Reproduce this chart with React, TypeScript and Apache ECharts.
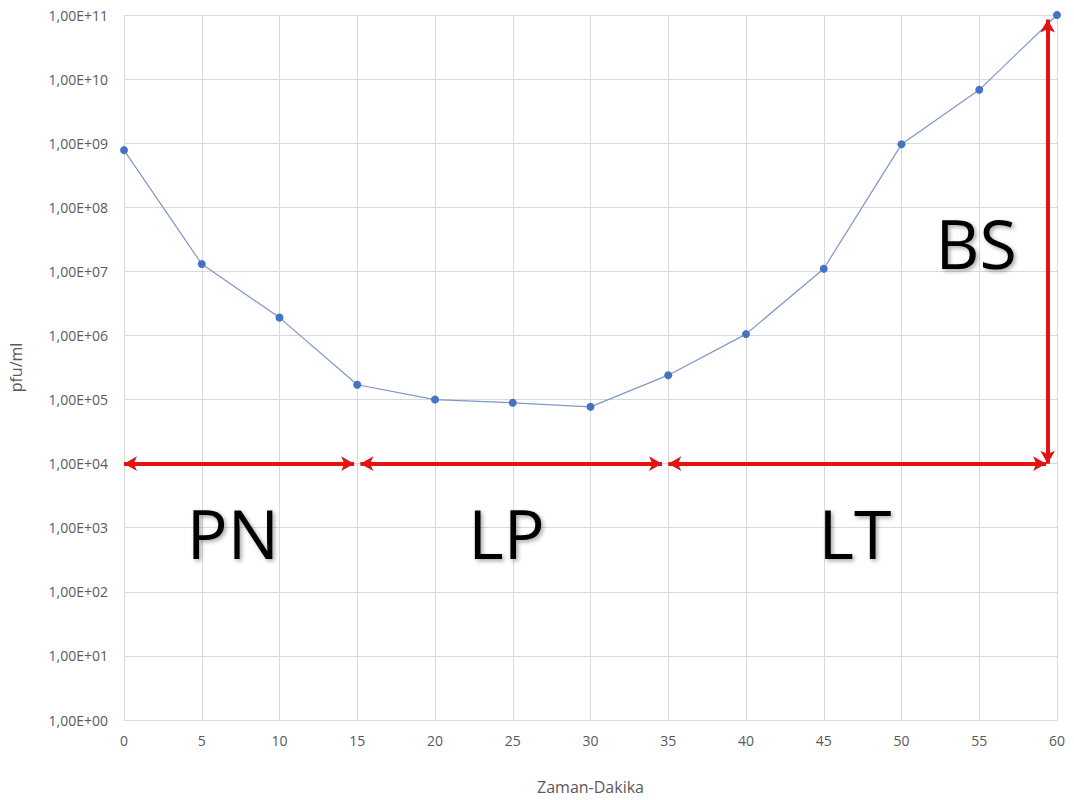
import React, { useEffect, useRef } from "react";
import * as echarts from "echarts";

const minutes = [0, 5, 10, 15, 20, 25, 30, 35, 40, 45, 50, 55, 60];
const pfu = [7.8e8, 1.3e7, 1.9e6, 1.7e5, 1.0e5, 8.9e4, 7.7e4, 2.4e5, 1.05e6, 1.1e7, 9.6e8, 6.8e9, 1.0e11];

const phaseSpans: [number, number][] = [
  [0, 14.8],
  [15.2, 34.6],
  [35.0, 59.3],
];
const phaseLevel = 1e4;
const bsSpan = { x: 59.4, from: 1e4, to: 8.5e10 };
const phaseLabels = [
  { name: "PN", x: 7.0, y: 830 },
  { name: "LP", x: 24.6, y: 830 },
  { name: "LT", x: 47.0, y: 830 },
  { name: "BS", x: 54.8, y: 2.8e7 },
];

const fmtY = (v: number) => {
  const e = Math.round(Math.log10(v));
  return "1,00E+" + (e < 10 ? "0" + e : String(e));
};

export default function App() {
  const ref = useRef<HTMLDivElement>(null);
  useEffect(() => {
    const chart = echarts.init(ref.current!, null, { renderer: "svg" });
    const font = "'Open Sans', 'Noto Sans', sans-serif";
    const red = "#e31414";
    const arrowLines: any[] = phaseSpans.map(([a, b]) => [
      { coord: [a, phaseLevel] },
      { coord: [b, phaseLevel] },
    ]);
    arrowLines.push([
      { coord: [bsSpan.x, bsSpan.from] },
      { coord: [bsSpan.x, bsSpan.to] },
    ]);
    chart.setOption({
      animation: false,
      backgroundColor: "#ffffff",
      textStyle: { fontFamily: font },
      grid: { left: 124, right: 17, top: 15, bottom: 73, containLabel: false },
      xAxis: {
        type: "value",
        min: 0,
        max: 60,
        interval: 5,
        name: "Zaman-Dakika",
        nameLocation: "middle",
        nameGap: 59,
        nameTextStyle: { color: "#595959", fontSize: 16, fontFamily: font },
        axisLine: { show: true, lineStyle: { color: "#d9d9d9" } },
        axisTick: { show: false },
        axisLabel: { color: "#595959", fontSize: 14, margin: 13, fontFamily: font },
        splitLine: { show: true, lineStyle: { color: "#d9d9d9" } },
      },
      yAxis: {
        type: "log",
        logBase: 10,
        min: 1,
        max: 1e11,
        interval: 1,
        name: "pfu/ml",
        nameLocation: "middle",
        nameGap: 100,
        nameTextStyle: { color: "#595959", fontSize: 16, fontFamily: font },
        axisLine: { show: false },
        axisTick: { show: false },
        axisLabel: { color: "#595959", fontSize: 14, margin: 16, formatter: fmtY, fontFamily: font },
        splitLine: { show: true, lineStyle: { color: "#d9d9d9" } },
      },
      series: [
        {
          type: "line",
          data: minutes.map((m, i) => [m, pfu[i]]),
          symbol: "circle",
          symbolSize: 8,
          itemStyle: { color: "#4472c4" },
          lineStyle: { color: "#7f96c8", width: 1.2 },
          markLine: {
            silent: true,
            symbol: ["arrow", "arrow"],
            symbolSize: [11, 13],
            label: { show: false },
            lineStyle: { color: red, width: 4, type: "solid" },
            data: arrowLines,
          },
          markPoint: {
            silent: true,
            symbol: "circle",
            symbolSize: 0,
            label: {
              show: true,
              position: "inside",
              color: "#000000",
              fontSize: 68,
              fontFamily: "'Open Sans', 'Liberation Sans', sans-serif",
              textShadowColor: "rgba(0,0,0,0.35)",
              textShadowBlur: 4,
              textShadowOffsetX: 2,
              textShadowOffsetY: 2,
              formatter: (p: any) => p.name,
            },
            data: phaseLabels.map((l) => ({ name: l.name, coord: [l.x, l.y] })),
          },
        },
      ],
    });
    return () => chart.dispose();
  }, []);
  return (
    <div
      ref={ref}
      style={{ position: "absolute", left: 0, top: 0, width: 1074, height: 800 }}
    />
  );
}
